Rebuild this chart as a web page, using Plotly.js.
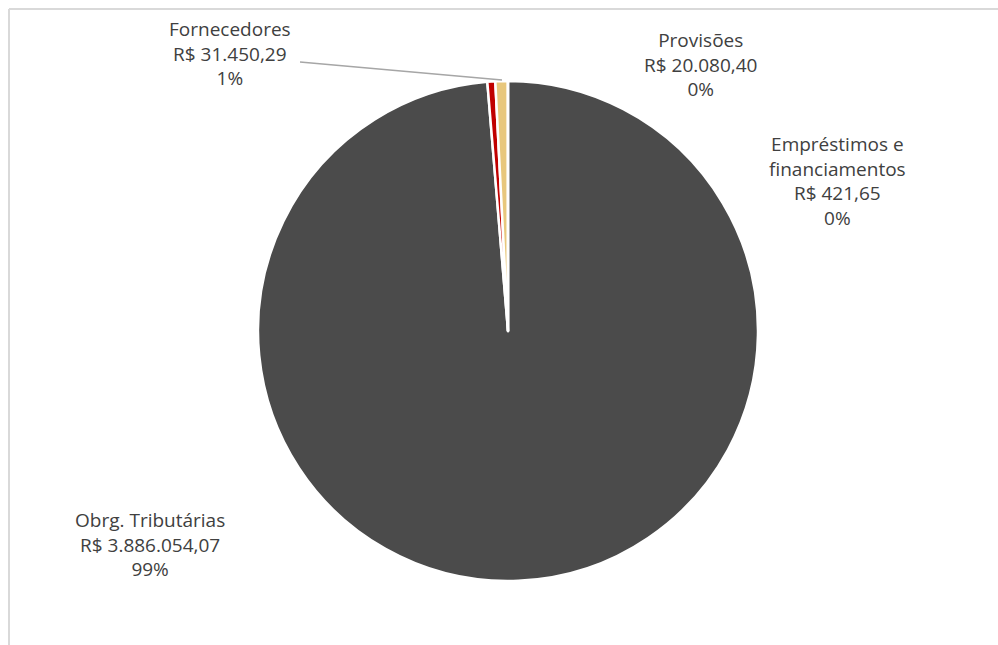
<!DOCTYPE html>
<html>
<head>
<meta charset="utf-8">
<script src="https://cdn.plot.ly/plotly-3.0.1.min.js"></script>
<style>html,body{margin:0;padding:0;background:#fff;}#chart{width:998px;height:645px;}</style>
</head>
<body>
<div id="chart"></div>
<script>
// Data
const categories = ["Obrg. Tributárias", "Provisões", "Fornecedores", "Empréstimos e<br>financiamentos"];
const values = [3886054.07, 20080.40, 31450.29, 421.65];
const percentLabels = ["99%", "0%", "1%", "0%"];
const sliceColors = ["#4b4b4b", "#c00000", "#e8c77c", "#a5a5a5"];

function brl(v) {
  const parts = v.toFixed(2).split(".");
  const intPart = parts[0].replace(/\B(?=(\d{3})+(?!\d))/g, ".");
  return "R$ " + intPart + "," + parts[1];
}

const W = 998, H = 645;
const px = x => x / W;
const py = y => 1 - y / H;

// label centres (pixels)
const labelPos = [
  [150, 544],
  [700, 64],
  [230, 53],
  [837, 181]
];

const annotations = categories.map((c, i) => ({
  text: c + "<br>" + brl(values[i]) + "<br>" + percentLabels[i],
  x: px(labelPos[i][0]), y: py(labelPos[i][1]),
  xref: "paper", yref: "paper",
  xanchor: "center", yanchor: "middle",
  showarrow: false, align: "center",
  font: {family: "Open Sans, sans-serif", size: 19, color: "#404040"}
}));

const trace = {
  type: "pie",
  labels: categories,
  values: values,
  sort: false,
  direction: "clockwise",
  rotation: 0,
  textinfo: "none",
  hoverinfo: "label+value+percent",
  marker: {colors: sliceColors, line: {color: "#ffffff", width: 2.5}},
  domain: {x: [px(258), px(758)], y: [py(581), py(81)]},
  showlegend: false
};

const layout = {
  width: W, height: H,
  margin: {l: 0, r: 0, t: 0, b: 0},
  paper_bgcolor: "#ffffff",
  showlegend: false,
  annotations: annotations,
  shapes: [
    {type: "line", xref: "paper", yref: "paper", x0: px(9), x1: 1, y0: py(9), y1: py(9), line: {color: "#d9d9d9", width: 2}},
    {type: "line", xref: "paper", yref: "paper", x0: px(9), x1: px(9), y0: py(9), y1: 0, line: {color: "#d9d9d9", width: 2}},
    {type: "line", xref: "paper", yref: "paper", x0: px(300), x1: px(502), y0: py(62), y1: py(80), line: {color: "#a6a6a6", width: 1.5}}
  ]
};

Plotly.newPlot("chart", [trace], layout, {displayModeBar: false, staticPlot: true});
</script>
</body>
</html>
